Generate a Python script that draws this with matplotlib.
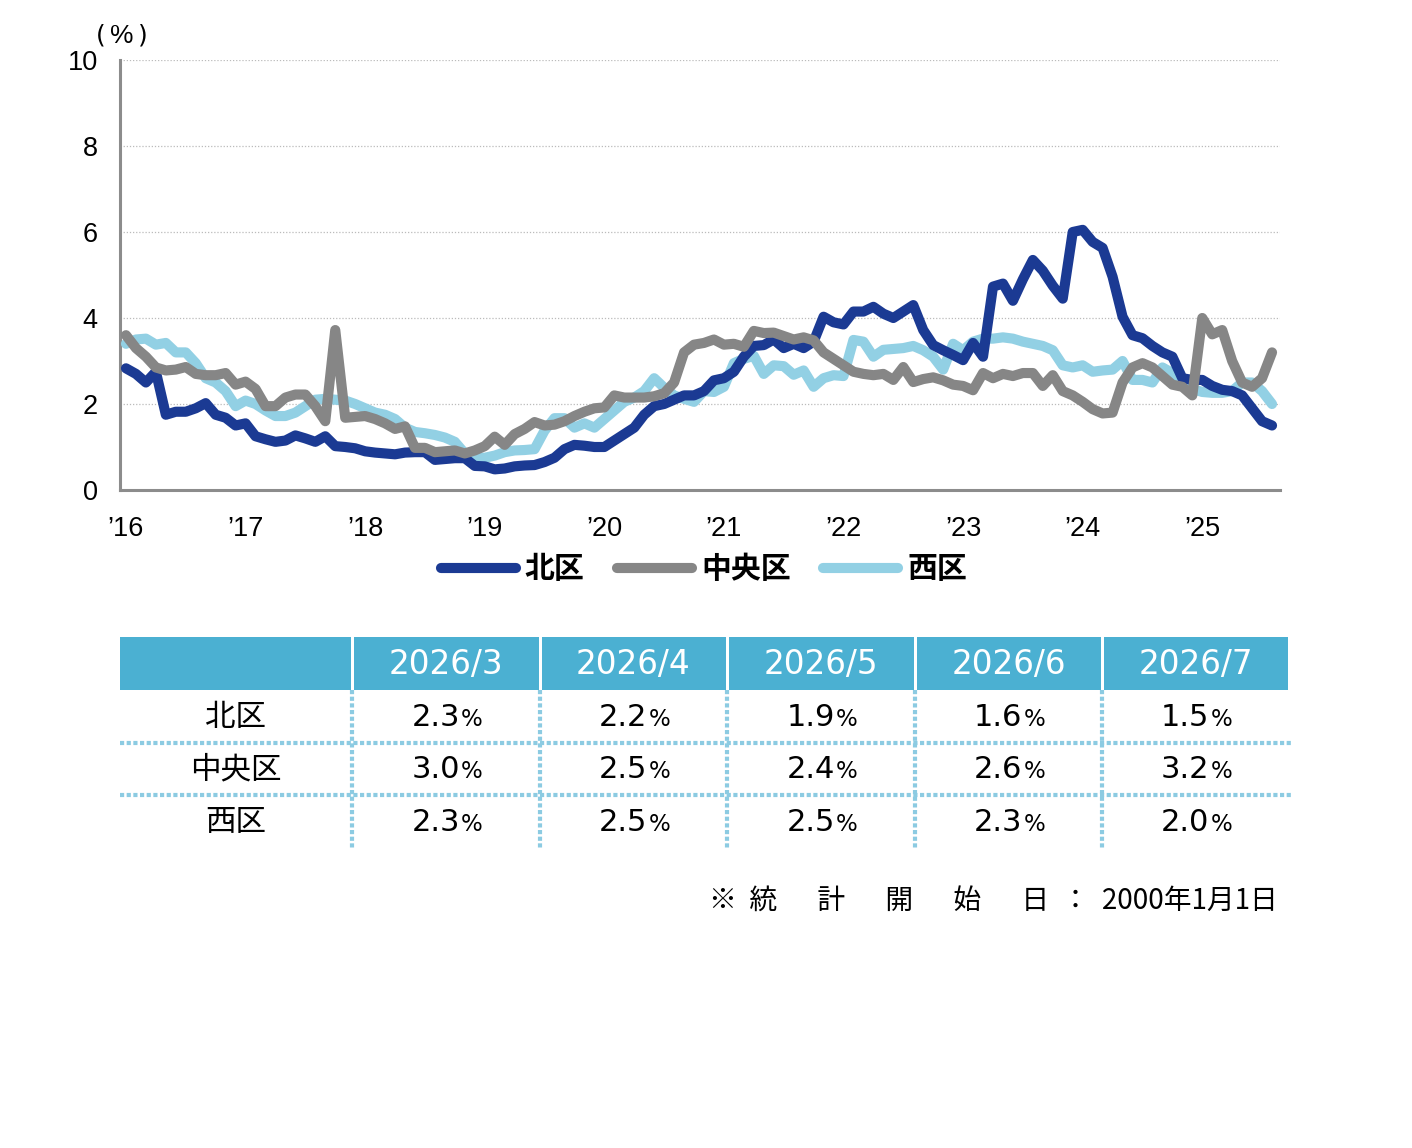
import numpy as np
import matplotlib.pyplot as plt
from matplotlib.patches import Rectangle

plt.rcParams['font.family'] = ['DejaVu Sans', 'Noto Sans CJK JP']

# 月次データ (北区, 中央区, 西区) %
kita = [2.83, 2.7, 2.5, 2.75, 1.75, 1.82, 1.82, 1.9, 2.02, 1.75,
        1.68, 1.5, 1.55, 1.25, 1.18, 1.12, 1.15, 1.27, 1.2, 1.12,
        1.25, 1.02, 1.0, 0.97, 0.9, 0.87, 0.85, 0.83, 0.87, 0.88,
        0.88, 0.7, 0.72, 0.74, 0.74, 0.56, 0.55, 0.48, 0.5, 0.55,
        0.57, 0.58, 0.65, 0.75, 0.95, 1.05, 1.03, 1.0, 1.0, 1.15,
        1.3, 1.45, 1.75, 1.95, 2.0, 2.1, 2.2, 2.2, 2.3, 2.55,
        2.6, 2.75, 3.1, 3.35, 3.37, 3.5, 3.3, 3.4, 3.3, 3.45,
        4.03, 3.9, 3.85, 4.15, 4.15, 4.26, 4.1, 4.0, 4.15, 4.3,
        3.72, 3.37, 3.25, 3.14, 3.02, 3.42, 3.1, 4.73, 4.8, 4.4,
        4.9, 5.35, 5.1, 4.75, 4.45, 6.0, 6.05, 5.77, 5.63, 4.96,
        4.03, 3.6, 3.53, 3.35, 3.2, 3.1, 2.6, 2.56, 2.56, 2.42,
        2.33, 2.3, 2.2, 1.9, 1.6, 1.5]
chuo = [3.6, 3.3, 3.1, 2.85, 2.78, 2.8, 2.86, 2.7, 2.67, 2.67,
        2.72, 2.45, 2.52, 2.35, 1.95, 1.95, 2.15, 2.22, 2.22, 1.95,
        1.6, 3.72, 1.68, 1.7, 1.72, 1.65, 1.55, 1.42, 1.48, 0.98,
        0.98, 0.88, 0.9, 0.92, 0.85, 0.92, 1.02, 1.24, 1.05, 1.3,
        1.42, 1.58, 1.5, 1.52, 1.6, 1.72, 1.82, 1.9, 1.92, 2.2,
        2.15, 2.15, 2.15, 2.18, 2.25, 2.5, 3.2, 3.38, 3.42, 3.5,
        3.38, 3.4, 3.33, 3.7, 3.65, 3.66, 3.58, 3.5, 3.55, 3.48,
        3.2, 3.05, 2.9, 2.75, 2.7, 2.67, 2.7, 2.56, 2.86, 2.51,
        2.58, 2.62, 2.55, 2.45, 2.42, 2.32, 2.72, 2.6, 2.7, 2.65,
        2.72, 2.72, 2.42, 2.67, 2.3, 2.2, 2.05, 1.88, 1.78, 1.8,
        2.5, 2.85, 2.95, 2.85, 2.65, 2.45, 2.4, 2.2, 4.0, 3.62,
        3.72, 3.0, 2.5, 2.4, 2.6, 3.2]
nishi = [3.4, 3.5, 3.52, 3.38, 3.42, 3.2, 3.2, 2.95, 2.6, 2.5,
         2.3, 1.95, 2.08, 2.0, 1.85, 1.72, 1.72, 1.8, 1.95, 2.1,
         2.12, 2.1, 2.08, 2.0, 1.9, 1.8, 1.75, 1.65, 1.45, 1.35,
         1.32, 1.28, 1.22, 1.12, 0.85, 0.75, 0.75, 0.8, 0.88, 0.92,
         0.93, 0.95, 1.38, 1.67, 1.67, 1.45, 1.55, 1.45, 1.65, 1.85,
         2.05, 2.15, 2.3, 2.6, 2.38, 2.2, 2.12, 2.05, 2.3, 2.28,
         2.4, 2.95, 3.05, 3.12, 2.7, 2.9, 2.88, 2.68, 2.78, 2.4,
         2.6, 2.67, 2.65, 3.49, 3.45, 3.1, 3.26, 3.28, 3.3, 3.35,
         3.25, 3.1, 2.8, 3.4, 3.25, 3.45, 3.52, 3.52, 3.55, 3.52,
         3.45, 3.4, 3.35, 3.25, 2.9, 2.85, 2.9, 2.75, 2.78, 2.8,
         3.0, 2.56, 2.56, 2.5, 2.85, 2.72, 2.5, 2.35, 2.28, 2.26,
         2.26, 2.3, 2.5, 2.5, 2.3, 2.0]

year_labels = ["’16", "’17", "’18", "’19", "’20", "’21", "’22", "’23", "’24", "’25"]
series_names = ["北区", "中央区", "西区"]
colors = ["#1b3a93", "#868686", "#92d0e4"]

# 表
table_cols = ["2026/3", "2026/4", "2026/5", "2026/6", "2026/7"]
table_kita = [2.3, 2.2, 1.9, 1.6, 1.5]
table_chuo = [3.0, 2.5, 2.4, 2.6, 3.2]
table_nishi = [2.3, 2.5, 2.5, 2.3, 2.0]

W, H = 1412, 1148
fig = plt.figure(figsize=(W / 100, H / 100), dpi=100)

# グラフ部分
ax = fig.add_axes([120 / W, 1 - 490 / H, 1160 / W, 430 / H])
x = np.arange(len(kita))
lw = 7.3
ax.plot(x, nishi, color=colors[2], lw=lw, solid_joinstyle='round', solid_capstyle='round', zorder=3, label=series_names[2])
ax.plot(x, kita, color=colors[0], lw=lw, solid_joinstyle='round', solid_capstyle='round', zorder=4, label=series_names[0])
ax.plot(x, chuo, color=colors[1], lw=lw, solid_joinstyle='round', solid_capstyle='round', zorder=5, label=series_names[1])

ax.set_xlim(-0.6, 115.8)
ax.set_ylim(0, 10)
ax.set_yticks([0, 2, 4, 6, 8, 10])
ax.set_xticks(np.arange(0, 120, 12))
ax.set_xticklabels(year_labels)
ax.tick_params(length=0)
ax.tick_params(axis='y', pad=16)
ax.tick_params(axis='x', pad=19)
for lab in ax.get_yticklabels() + ax.get_xticklabels():
    lab.set_fontfamily('Liberation Sans')
    lab.set_fontsize(19.5)
ax.grid(axis='y', color='#bbbbbb', linestyle=(0, (1, 1.5)), lw=0.9)
ax.set_axisbelow(True)
for s in ['top', 'right']:
    ax.spines[s].set_visible(False)
for s in ['left', 'bottom']:
    ax.spines[s].set_color('#8c8c8c')
    ax.spines[s].set_linewidth(2.2)

# 単位 (%)  括弧は全角風に間隔をあける
fig.text(101 / W, 1 - 35 / H, "(", ha='center', va='center', fontsize=18)
fig.text(122 / W, 1 - 36 / H, "%", ha='center', va='center', fontsize=19, family='Liberation Sans')
fig.text(143 / W, 1 - 35 / H, ")", ha='center', va='center', fontsize=18)

handles, labels = ax.get_legend_handles_labels()
order = [1, 2, 0]
ax.legend([handles[i] for i in order], [labels[i] for i in order], ncol=3, frameon=False,
          loc='center', bbox_to_anchor=(704 / W, 1 - 569 / H), bbox_transform=fig.transFigure,
          prop={'family': 'Noto Sans CJK JP', 'size': 21.5, 'weight': 'bold'},
          handlelength=2.5, handletextpad=0.3, columnspacing=1.1)

# 表部分 (ピクセル座標)
tax = fig.add_axes([0, 0, 1, 1])
tax.set_xlim(0, W)
tax.set_ylim(H, 0)
tax.axis('off')

col_x = [120, 352, 540, 727, 915, 1102, 1289]
row_y = [637, 690, 743, 795, 848]
head_color = "#4bb0d2"
dot_color = "#8ccbe2"

for j in range(len(col_x) - 1):
    x0 = col_x[j] + (0 if j == 0 else 1.5)
    x1 = col_x[j + 1] - 1.5
    tax.add_patch(Rectangle((x0, row_y[0]), x1 - x0, row_y[1] - row_y[0], color=head_color, lw=0))
    if j > 0:
        tax.text((col_x[j] + col_x[j + 1]) / 2, (row_y[0] + row_y[1]) / 2 + 1, table_cols[j - 1],
                 ha='center', va='center', color='white', fontsize=23.5)

for yy in row_y[2:4]:
    tax.plot([120, 1292], [yy, yy], color=dot_color, lw=3, linestyle=(0, (1, 0.6)))
for xx in col_x[1:6]:
    tax.plot([xx, xx], [row_y[1], row_y[4]], color=dot_color, lw=3, linestyle=(0, (1, 0.6)))

rows = [table_kita, table_chuo, table_nishi]
for r in range(3):
    yc = (row_y[r + 1] + row_y[r + 2]) / 2 + 1
    tax.text((col_x[0] + col_x[1]) / 2, yc, series_names[r], ha='center', va='center',
             fontsize=22, family=['Noto Sans CJK JP'])
    for j in range(5):
        xc = (col_x[j + 1] + col_x[j + 2]) / 2
        tax.text(xc + 14, yc, f"{rows[r][j]:.1f}", ha='right', va='center', fontsize=22)
        tax.text(xc + 15, yc + 2, "%", ha='left', va='center', fontsize=16.5)

fig.text(1278 / W, 1 - 901 / H, "※  統　  計　  開　  始　  日  ：  2000年1月1日", ha='right', va='center',
         fontsize=20, family=['Noto Sans CJK JP'])

fig.savefig("out.png", dpi=100, facecolor='white')
